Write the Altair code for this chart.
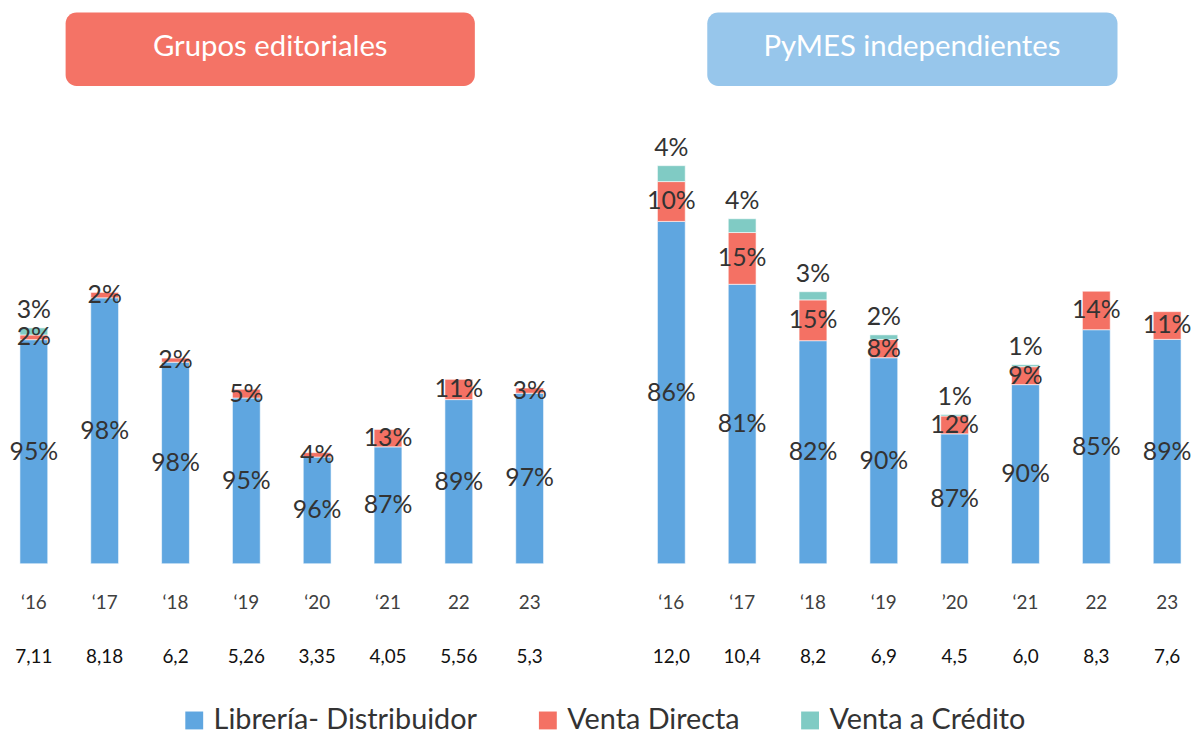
import altair as alt
import pandas as pd

# ---------------- data ----------------
series = ["Librería- Distribuidor", "Venta Directa", "Venta a Crédito"]
colors = ["#5FA6E0", "#F47164", "#80CBC4"]

years_left = ["‘16", "‘17", "‘18", "‘19", "‘20", "‘21", "22", "23"]
totals_left = [7.11, 8.18, 6.2, 5.26, 3.35, 4.05, 5.56, 5.3]
totals_left_txt = ["7,11", "8,18", "6,2", "5,26", "3,35", "4,05", "5,56", "5,3"]
lib_left = [95, 98, 98, 95, 96, 87, 89, 97]
dir_left = [2, 2, 2, 5, 4, 13, 11, 3]
cred_left = [3, 0, 0, 0, 0, 0, 0, 0]

years_right = ["‘16", "‘17", "‘18", "‘19", "’20", "‘21", "22", "23"]
totals_right = [12.0, 10.4, 8.2, 6.9, 4.5, 6.0, 8.3, 7.6]
totals_right_txt = ["12,0", "10,4", "8,2", "6,9", "4,5", "6,0", "8,3", "7,6"]
lib_right = [86, 81, 82, 90, 87, 90, 85, 89]
dir_right = [10, 15, 15, 8, 12, 9, 14, 11]
cred_right = [4, 4, 3, 2, 1, 1, 0, 0]

panel_titles = ["Grupos editoriales", "PyMES independientes"]

# ---------------- tables ----------------
seg_rows, cat_rows = [], []
panels = [
    (0, years_left, totals_left, totals_left_txt, lib_left, dir_left, cred_left),
    (9, years_right, totals_right, totals_right_txt, lib_right, dir_right, cred_right),
]
for offset, yrs, tots, tots_txt, lib, dr, cr in panels:
    for i, yr in enumerate(yrs):
        slot = offset + i
        cat_rows.append(dict(slot=slot, year=yr, total=tots_txt[i]))
        base = 0.0
        for s, share in zip(series, [lib[i], dr[i], cr[i]]):
            if share == 0:
                continue
            h = tots[i] * share / 100.0
            seg_rows.append(dict(slot=slot, serie=s, y0=base, y1=base + h,
                                 mid=base + h / 2, label=f"{share}%"))
            base += h

seg = pd.DataFrame(seg_rows)
cats = pd.DataFrame(cat_rows)

W, H = 1169, 557
xscale = alt.Scale(domain=list(range(17)), paddingInner=0.607, paddingOuter=0)
yscale = alt.Scale(domain=[0, H / 33.4])
X = alt.X("slot:O", scale=xscale, axis=None)

FONT = "Lato"

bars = alt.Chart(seg).mark_bar(stroke="white", strokeWidth=0.6).encode(
    x=X,
    y=alt.Y("y0:Q", scale=yscale, axis=None),
    y2="y1:Q",
    color=alt.Color(
        "serie:N",
        scale=alt.Scale(domain=series, range=colors),
        legend=alt.Legend(
            title=None, orient="none", direction="horizontal",
            legendX=161, legendY=700, symbolType="square", symbolSize=324,
            symbolStrokeWidth=0, labelFont=FONT, labelFontSize=29,
            labelColor="#333333", labelOffset=5, columnPadding=56,
            padding=0, labelLimit=400,
        ),
    ),
)

inner = alt.Chart(seg).transform_filter(
    alt.datum.serie != "Venta a Crédito"
).mark_text(font=FONT, fontSize=25, color="#333333", baseline="middle").encode(
    x=X, y=alt.Y("mid:Q", scale=yscale), text="label:N"
)

outer = alt.Chart(seg).transform_filter(
    alt.datum.serie == "Venta a Crédito"
).mark_text(font=FONT, fontSize=25, color="#333333", baseline="middle", dy=-18).encode(
    x=X, y=alt.Y("y1:Q", scale=yscale), text="label:N"
)

year_txt = alt.Chart(cats).mark_text(font=FONT, fontSize=19, color="#404040",
                                     baseline="middle").encode(
    x=X, y=alt.value(597), text="year:N"
)
total_txt = alt.Chart(cats).mark_text(font=FONT, fontSize=19, color="#111111",
                                      baseline="middle").encode(
    x=X, y=alt.value(651), text="total:N"
)

tdf_l = pd.DataFrame({"t": [panel_titles[0]]})
tdf_r = pd.DataFrame({"t": [panel_titles[1]]})
box_l = alt.Chart(tdf_l).mark_rect(cornerRadius=11, color="#F47366").encode(
    x=alt.value(46), x2=alt.value(458), y=alt.value(2), y2=alt.value(76))
box_r = alt.Chart(tdf_r).mark_rect(cornerRadius=11, color="#97C6EB").encode(
    x=alt.value(692), x2=alt.value(1105), y=alt.value(2), y2=alt.value(76))
txt_l = alt.Chart(tdf_l).mark_text(font=FONT, fontSize=29.5, color="white",
                                   baseline="middle").encode(
    x=alt.value(252), y=alt.value(37), text="t:N")
txt_r = alt.Chart(tdf_r).mark_text(font=FONT, fontSize=29.5, color="white",
                                   baseline="middle").encode(
    x=alt.value(898), y=alt.value(37), text="t:N")

chart = alt.layer(
    box_l, box_r, txt_l, txt_r, bars, inner, outer, year_txt, total_txt
).properties(
    width=W, height=H,
    padding={"left": 12, "top": 0, "right": 10, "bottom": 190},
    autosize=alt.AutoSizeParams(type="none"),
).configure_view(stroke=None)

chart.save("out.html", embed_options={"renderer": "svg", "actions": False})
